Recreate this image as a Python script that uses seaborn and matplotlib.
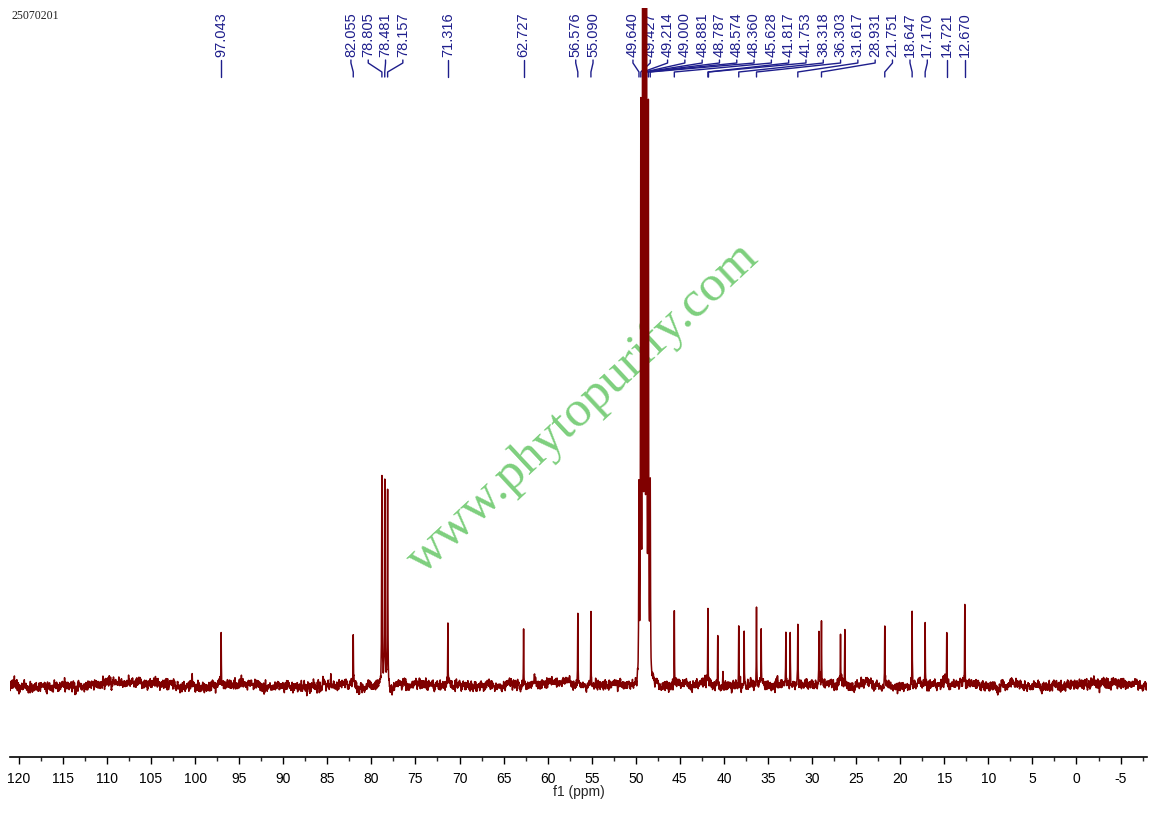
import numpy as np
import pandas as pd
import matplotlib
matplotlib.use("Agg")
import matplotlib.pyplot as plt
import matplotlib.transforms as mtransforms
from matplotlib.lines import Line2D
from matplotlib.ticker import MultipleLocator
import seaborn as sns

# ---------------- data ----------------
# peak positions (ppm) and peak heights above baseline (arbitrary intensity units)
peak_ppm = [100.33, 97.043, 84.6, 82.055, 78.805, 78.481, 78.157, 71.316, 62.727,
            56.576, 55.090,
            49.640, 49.427, 49.214, 49.000, 48.787, 48.574, 48.360,
            45.628, 41.817, 40.70, 40.11, 38.318, 37.70, 36.303, 35.77, 32.97, 32.48,
            31.617, 29.22, 28.931, 26.77, 26.28, 21.751, 18.647, 17.170, 14.721, 12.670]
peak_height = [10, 57, 10, 52, 205, 202, 196, 66, 59,
               64, 74,
               183, 555, 1100, 1290, 1100, 555, 183,
               75, 74, 56, 12, 64, 56, 76, 57, 52, 51,
               61, 56, 63, 51, 52, 58, 74, 64, 53, 81]

# peak-pick labels printed above the spectrum
label_ppm = [97.043, 82.055, 78.805, 78.481, 78.157, 71.316, 62.727, 56.576, 55.090,
             49.640, 49.427, 49.214, 49.000, 48.881, 48.787, 48.574, 48.360,
             45.628, 41.817, 41.753, 38.318, 36.303, 31.617, 28.931, 21.751,
             18.647, 17.170, 14.721, 12.670]

tick_values = list(range(-5, 121, 5))
sample_id = "25070201"
watermark = "www.phytopurify.com"
x_title = "f1 (ppm)"

# ---------------- spectrum construction ----------------
ppm = np.arange(-8.0, 121.0, 0.004)
intensity = np.zeros_like(ppm)
for p, h in zip(peak_ppm, peak_height):
    g = 0.03 if h > 150 else 0.02          # line half-width
    intensity += h * g**2 / (g**2 + (ppm - p) ** 2)


def smooth(sig, sigma):
    r = int(4 * sigma)
    k = np.exp(-0.5 * (np.arange(-r, r + 1) / sigma) ** 2)
    k /= k.sum()
    out = np.convolve(sig, k, mode="same")
    return out / out.std()


# baseline noise texture (fixed seed)
rng = np.random.default_rng(7)
noise = (2.4 * smooth(rng.normal(0, 1, ppm.size), 3)
         + 1.3 * smooth(rng.normal(0, 1, ppm.size), 40)
         + 1.1 * smooth(rng.normal(0, 1, ppm.size), 500))
intensity = intensity + noise

df = pd.DataFrame({"ppm": ppm, "intensity": intensity})

# ---------------- figure ----------------
sns.set_theme(style="white")
plt.rcParams["font.family"] = ["Liberation Sans", "DejaVu Sans"]
plt.rcParams["axes.unicode_minus"] = False

W, H, DPI = 1156, 816, 100
fig = plt.figure(figsize=(W / DPI, H / DPI), dpi=DPI)
ax_left, ax_right, ax_top, ax_bottom = 10, 1147, 8, 757
ax = fig.add_axes([ax_left / W, 1 - ax_bottom / H,
                   (ax_right - ax_left) / W, (ax_bottom - ax_top) / H])

line_color = "#800000"
label_color = "#1e1e8c"

sns.lineplot(data=df, x="ppm", y="intensity", ax=ax, color=line_color,
             linewidth=1.1, estimator=None, sort=False, zorder=3)

ax.set_xlim(121, -8)
ax.set_ylim(-72, 677)
for s in ["left", "right", "top"]:
    ax.spines[s].set_visible(False)
ax.spines["bottom"].set_color("black")
ax.spines["bottom"].set_linewidth(1.2)
ax.set_yticks([])
ax.set_ylabel("")
ax.xaxis.set_major_locator(MultipleLocator(5))
ax.xaxis.set_minor_locator(MultipleLocator(2.5))
ax.set_xticks(tick_values)
ax.set_xticklabels([str(v) for v in tick_values])
ax.tick_params(axis="x", which="major", direction="out", length=5, width=1,
               pad=6, labelsize=10, colors="black", bottom=True)
ax.tick_params(axis="x", which="minor", direction="out", length=3, width=1,
               bottom=True)
ax.set_xlabel(x_title, fontsize=10, labelpad=-1)

# ---------------- peak labels ----------------
fig.canvas.draw()
to_px = lambda v: ax.transData.transform((v, 0))[0]
to_ppm = lambda px: ax.transData.inverted().transform((px, 0))[0]
desired = [to_px(v) for v in label_ppm]
gap = 17.3


def place(cl):
    d = [desired[i] for i in cl]
    start = np.mean(d) - gap * (len(cl) - 1) / 2
    if len(cl) > 4:
        start = max(start, d[0] - 6)
    return start


clusters = [[i] for i in range(len(desired))]
changed = True
while changed:
    changed = False
    starts = [place(c) for c in clusters]
    for k in range(len(clusters) - 1):
        end_k = starts[k] + gap * (len(clusters[k]) - 1)
        if starts[k + 1] < end_k + gap:
            clusters[k] = clusters[k] + clusters[k + 1]
            del clusters[k + 1]
            changed = True
            break

label_px = [0.0] * len(desired)
for c in clusters:
    s = place(c)
    for j, i in enumerate(c):
        label_px[i] = s + j * gap

blend = mtransforms.blended_transform_factory(ax.transData, fig.transFigure)
fy = lambda ypx: 1 - ypx / H
for v, lp in zip(label_ppm, label_px):
    lx = to_ppm(lp)
    ax.text(lx, fy(12), f"{v:.3f}", rotation=90, ha="center", va="top",
            fontsize=10.5, color=label_color, transform=blend, zorder=2,
            clip_on=False)
    ln = Line2D([lx, lx, v, v], [fy(60), fy(63), fy(72), fy(77)],
                transform=blend, color=label_color, linewidth=1.0,
                zorder=2, clip_on=False)
    ax.add_line(ln)

# ---------------- other texts ----------------
fig.text(12 / W, 1 - 10 / H, sample_id, ha="left", va="top", fontsize=8.5,
         family=["Liberation Serif", "DejaVu Serif"], color="#222222")
ax.text(583 / W, 1 - 408 / H, watermark, transform=fig.transFigure,
        rotation=43, rotation_mode="anchor", ha="center", va="center",
        fontsize=37, family=["Liberation Serif", "DejaVu Serif"],
        color="#7dcf7d", zorder=1)

fig.savefig("out.png", dpi=DPI)
